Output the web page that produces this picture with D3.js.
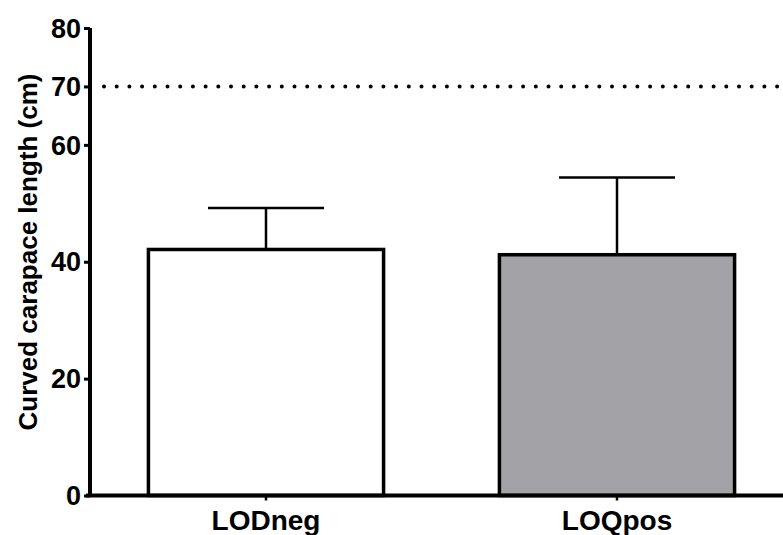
<!DOCTYPE html>
<html>
<head>
<meta charset="utf-8">
<script src="https://cdn.jsdelivr.net/npm/d3@7/dist/d3.min.js"></script>
<style>
html,body{margin:0;padding:0;background:#fff;}
svg{display:block;}
text{font-family:"Liberation Sans",Arial,Helvetica,sans-serif;font-weight:bold;fill:#000;}
</style>
</head>
<body>
<svg id="chart" width="783" height="535"></svg>
<script>
const categories = ["LODneg", "LOQpos"];
const means = [42.1, 41.2];
const sds = [7.1, 13.2];
const fills = ["#ffffff", "#a3a2a7"];
const yTicks = [0, 20, 40, 60, 70, 80];
const refValue = 70;
const yTitle = "Curved carapace length (cm)";

const svg = d3.select("#chart");
const y = d3.scaleLinear().domain([0, 80]).range([495.5, 28]);
const x = d3.scaleBand().domain(categories).range([90.5, 792.5]).paddingInner(0.33).paddingOuter(0.165);

// dotted reference line
svg.append("line")
  .attr("x1", 104).attr("x2", 783)
  .attr("y1", y(refValue)).attr("y2", y(refValue))
  .attr("stroke", "#000").attr("stroke-width", 4)
  .attr("stroke-linecap", "round")
  .attr("stroke-dasharray", "0 12.7");

// error bars
const eb = svg.append("g");
categories.forEach((c, i) => {
  const cx = x(c) + x.bandwidth() / 2;
  eb.append("line").attr("x1", cx).attr("x2", cx)
    .attr("y1", y(means[i])).attr("y2", y(means[i] + sds[i]))
    .attr("stroke", "#000").attr("stroke-width", 2.5);
  eb.append("line").attr("x1", cx - 58).attr("x2", cx + 58)
    .attr("y1", y(means[i] + sds[i])).attr("y2", y(means[i] + sds[i]))
    .attr("stroke", "#000").attr("stroke-width", 2.5);
});

// bars
svg.append("g").selectAll("rect").data(categories).join("rect")
  .attr("x", d => x(d))
  .attr("y", (d, i) => y(means[i]))
  .attr("width", x.bandwidth())
  .attr("height", (d, i) => y(0) - y(means[i]))
  .attr("fill", (d, i) => fills[i])
  .attr("stroke", "#000").attr("stroke-width", 3.5);

// y axis
const yAxis = d3.axisLeft(y).tickValues(yTicks).tickSize(6).tickPadding(3).tickFormat(d3.format("d"));
const gy = svg.append("g").attr("transform", "translate(90,0)").call(yAxis);
gy.select(".domain").attr("stroke-width", 4).attr("d", `M0,${y(80)}V${y(0)}`);
gy.selectAll(".tick line").attr("stroke-width", 3);
gy.selectAll(".tick text").style("font-size", "27px").attr("dy", "0.34em");

// x axis
const xAxis = d3.axisBottom(x).tickSize(5).tickPadding(9);
const gx = svg.append("g").attr("transform", `translate(0,${y(0)})`).call(xAxis);
gx.select(".domain").attr("stroke-width", 4).attr("d", "M86,0H783");
gx.selectAll(".tick line").attr("stroke-width", 2.5);
gx.selectAll(".tick text").style("font-size", "28px").attr("dy", "0.72em");

// y title
svg.append("text")
  .attr("transform", "translate(37,252) rotate(-90)")
  .attr("text-anchor", "middle")
  .style("font-size", "26px")
  .text(yTitle);
</script>
</body>
</html>
